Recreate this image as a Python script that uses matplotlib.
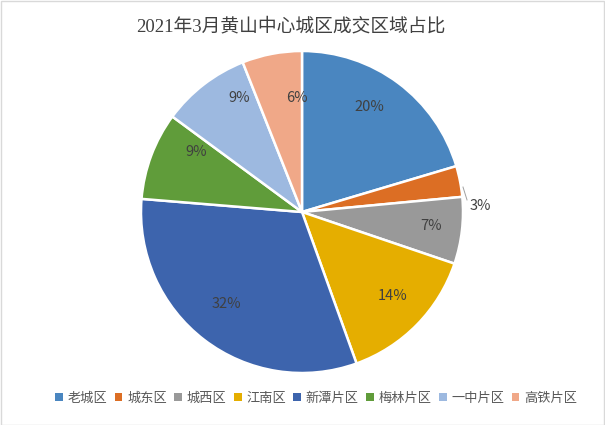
import matplotlib
matplotlib.use("Agg")
import matplotlib.pyplot as plt
from matplotlib.patches import Patch
import numpy as np

plt.rcParams['font.family'] = ['Noto Sans CJK SC', 'DejaVu Sans']

categories = ['老城区', '城东区', '城西区', '江南区', '新潭片区', '梅林片区', '一中片区', '高铁片区']
values = [20.4, 3.1, 6.7, 14.3, 31.8, 8.8, 8.9, 6.0]
colors = ['#4A86C0', '#DC6E24', '#999999', '#E5AE00', '#3D64AD', '#609C3A', '#9DB9E0', '#F0A888']
title = '2021年3月黄山中心城区成交区域占比'

W, H = 605, 425
fig = plt.figure(figsize=(W/100, H/100), dpi=100)
fig.patch.set_facecolor('white')

cx, cy, r = 302, 212, 161
ax = fig.add_axes([(cx - r)/W, (H - cy - r)/H, 2*r/W, 2*r/H])
wedges, texts, autotexts = ax.pie(values, colors=colors, startangle=90, counterclock=False,
                                  autopct='%.0f%%', pctdistance=0.76,
                                  wedgeprops=dict(edgecolor='white', linewidth=1.8),
                                  textprops=dict(fontsize=10.5, color='#404040'))
ax.set_aspect('equal')
ax.set_xlim(-1, 1)
ax.set_ylim(-1, 1)

# label placement (best-fit style, in units of pie radius)
label_pos = [(0.42, 0.65), (1.11, 0.04), (0.80, -0.09), (0.56, -0.52),
             (-0.47, -0.57), (-0.66, 0.37), (-0.39, 0.71), (-0.03, 0.71)]
for t, p in zip(autotexts, label_pos):
    t.set_position(p)
ax.plot([1.0, 1.025], [0.155, 0.075], color='#A0A0A0', lw=0.7, clip_on=False)

fig.text(291/W, 1 - 27/H, title, ha='center', va='center', fontsize=13.5, color='#404040',
         family=['Liberation Serif', 'Noto Sans CJK SC'], fontweight='medium')

handles = [Patch(facecolor=c, edgecolor='none') for c in colors]
fig.legend(handles, categories, loc='center', bbox_to_anchor=(316/W, 1 - 398/H), ncol=8,
           frameon=False, fontsize=9.5, handlelength=0.6, handleheight=0.6,
           handletextpad=0.35, columnspacing=0.55, labelcolor='#595959')

# thin outer frame
fig.add_artist(plt.Rectangle((0.001, 0.001), 0.997, 0.997, transform=fig.transFigure,
                             fill=False, edgecolor='#D9D9D9', lw=1))

fig.savefig('out.png', dpi=100)
